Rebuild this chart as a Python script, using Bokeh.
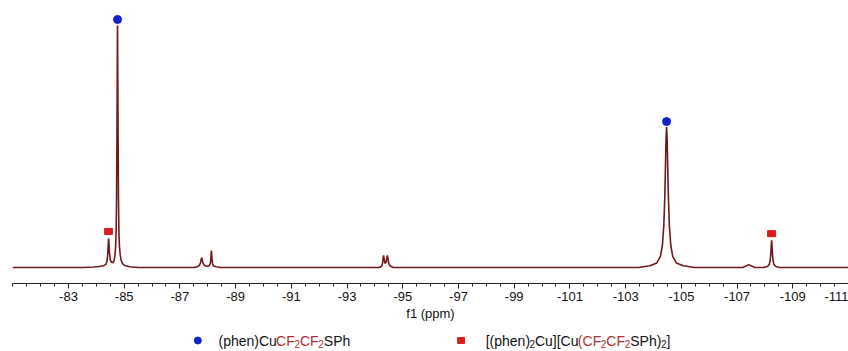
from bokeh.plotting import figure
from bokeh.models import Range1d, FixedTicker
from bokeh.layouts import column
from bokeh.core.properties import value
from bokeh.embed import file_html
from bokeh.resources import INLINE

# ---- data ----
# 19F NMR trace: chemical shift (ppm) and intensity (main peak = 100)
spec_ppm = [
    -80.99, -83.50, -83.90, -84.10, -84.25, -84.34, -84.38, -84.41, -84.425, -84.44,
    -84.455, -84.47, -84.50, -84.54, -84.60, -84.64, -84.67, -84.69, -84.71, -84.725,
    -84.74, -84.75, -84.76, -84.77, -84.78, -84.795, -84.81, -84.83, -84.86, -84.89,
    -84.94, -85.02, -85.20, -85.50, -87.50, -87.62, -87.70, -87.74, -87.76, -87.78,
    -87.80, -87.82, -87.86, -87.92, -88.00, -88.05, -88.09, -88.11, -88.12, -88.13,
    -88.14, -88.15, -88.17, -88.21, -88.30, -88.45, -94.15, -94.24, -94.27, -94.29,
    -94.31, -94.33, -94.36, -94.38, -94.40, -94.43, -94.45, -94.47, -94.50, -94.55,
    -94.65, -103.47, -103.87, -104.12, -104.25, -104.32, -104.37, -104.405, -104.43, -104.45,
    -104.47, -104.49, -104.51, -104.535, -104.57, -104.62, -104.69, -104.82, -105.07, -105.47,
    -107.20, -107.32, -107.42, -107.52, -107.64, -107.94, -108.09, -108.16, -108.19, -108.21,
    -108.225, -108.24, -108.255, -108.27, -108.29, -108.32, -108.39, -108.54, -111.10,
]
spec_int = [
    0.0, 0.0, 0.2, 0.4, 0.7, 1.3, 2.5, 5.5, 9.5, 12.0,
    9.6, 6.2, 3.2, 2.2, 2.0, 3.0, 5.0, 8.5, 15.0, 28.0,
    55.0, 80.0, 100.0, 80.0, 55.0, 28.0, 15.0, 8.5, 5.0, 3.0,
    1.6, 0.8, 0.3, 0.0, 0.0, 0.3, 0.9, 2.0, 3.2, 4.1,
    3.4, 2.2, 1.1, 0.6, 0.5, 0.8, 1.6, 3.6, 5.6, 7.0,
    5.6, 3.6, 1.6, 0.6, 0.3, 0.0, 0.0, 0.5, 1.4, 3.4,
    5.0, 3.6, 1.9, 1.8, 2.2, 3.8, 5.0, 3.6, 1.6, 0.6,
    0.0, 0.0, 0.7, 1.9, 4.6, 9.2, 17.2, 29.0, 42.0, 53.0,
    58.0, 53.0, 42.0, 29.0, 17.2, 9.2, 4.6, 1.9, 0.7, 0.0,
    0.0, 0.6, 1.2, 0.6, 0.0, 0.0, 0.4, 1.4, 3.0, 5.6,
    9.0, 11.2, 9.0, 5.6, 3.0, 1.4, 0.4, 0.0, 0.0,
]

# peak markers
circle_ppm = [-84.76, -104.47]
circle_int = [102.5, 60.3]
square_ppm = [-84.44, -108.24]
square_int = [14.9, 14.0]

# axis ticks
tick_values = [-83, -85, -87, -89, -91, -93, -95, -97, -99, -101, -103, -105, -107, -109, -111]
tick_labels = ["-83", "-85", "-87", "-89", "-91", "-93", "-95", "-97", "-99", "-101",
               "-103", "-105", "-107", "-109", "-111"]

# legend entries: (text, colour key, subscript?)
legend1 = [("(phen)Cu", "k", False), ("CF", "r", False), ("2", "r", True),
           ("CF", "r", False), ("2", "r", True), ("SPh", "k", False)]
legend2 = [("[(phen)", "k", False), ("2", "k", True), ("Cu][Cu", "k", False),
           ("(CF", "r", False), ("2", "r", True), ("CF", "r", False),
           ("2", "r", True), ("SPh)", "k", False), ("2", "k", True), ("]", "k", False)]

# ---- styling / layout ----
W = 848
MAIN_H = 326
LEG_H = 25
BLACK = "#111111"
RED = "#b03030"
LINE = "#6e1a1a"
BLUE = "#1020c8"
SQ_RED = "#e01b1b"
COLORS = {"k": BLACK, "r": RED}
FONT = "Liberation Sans"

p = figure(width=W, height=MAIN_H, output_backend="svg", toolbar_location=None,
           x_range=Range1d(-80.99, -111.0), y_range=Range1d(-6.6, 106.2),
           y_axis_location=None, min_border_left=12, min_border_right=0,
           min_border_top=10, min_border_bottom=43)
p.outline_line_color = None
p.xgrid.visible = False
p.ygrid.visible = False

minor = [v / 2 for v in range(-222, -161)]
ax = p.xaxis[0]
ax.ticker = FixedTicker(ticks=tick_values, minor_ticks=minor)
ax.major_label_overrides = {v: s for v, s in zip(tick_values, tick_labels)}
ax.axis_label = "f1 (ppm)"
ax.axis_label_text_font = FONT
ax.axis_label_text_font_size = "13px"
ax.axis_label_text_font_style = "normal"
ax.axis_label_text_color = BLACK
ax.axis_label_standoff = 2
ax.major_label_text_font = FONT
ax.major_label_text_font_size = "13px"
ax.major_label_text_color = BLACK
ax.major_label_standoff = 3
ax.axis_line_color = "#222222"
ax.major_tick_line_color = "#222222"
ax.minor_tick_line_color = "#222222"
ax.major_tick_in = 0
ax.major_tick_out = 5
ax.minor_tick_in = 0
ax.minor_tick_out = 3

p.line(spec_ppm, spec_int, line_color=LINE, line_width=1.6)
p.scatter(circle_ppm, circle_int, marker="circle", size=8, fill_color=BLUE,
          line_color=BLUE)
p.rect(square_ppm, square_int, width=8, height=6, width_units="screen",
       height_units="screen", fill_color=SQ_RED, line_color=SQ_RED)

# ---- legend figure (page pixels, y measured from its top) ----
leg = figure(width=W, height=LEG_H, output_backend="svg", toolbar_location=None,
             x_range=Range1d(0, W), y_range=Range1d(LEG_H, 0),
             x_axis_location=None, y_axis_location=None,
             min_border=0, min_border_left=0, min_border_right=0,
             min_border_top=0, min_border_bottom=0)
leg.outline_line_color = None
leg.xgrid.visible = False
leg.ygrid.visible = False

LEG_Y = 14
leg.scatter([188], [LEG_Y], marker="circle", size=7, fill_color=BLUE, line_color=BLUE)
leg.rect([455], [LEG_Y], width=7, height=6, fill_color=SQ_RED, line_color=SQ_RED)

# approximate advance widths of Liberation Sans (per 1000 em)
ADV = {"(": 333, ")": 333, "[": 278, "]": 278, "p": 556, "h": 556, "e": 556, "n": 556,
       "C": 722, "u": 556, "F": 611, "S": 667, "P": 667, "2": 556}


def draw_legend(x0, items):
    x = x0
    for txt, ck, sub in items:
        size = 10 if sub else 14
        leg.text([x], [LEG_Y + (3 if sub else 0)], text=[txt],
                 text_font=value(FONT), text_font_size=f"{size}px",
                 text_color=COLORS[ck], text_baseline="middle", text_align="left")
        x += sum(ADV[c] for c in txt) * size / 1000.0


draw_legend(209, legend1)
draw_legend(480, legend2)

layout = column(p, leg, spacing=0)
open("out.html", "w").write(file_html(layout, INLINE))
